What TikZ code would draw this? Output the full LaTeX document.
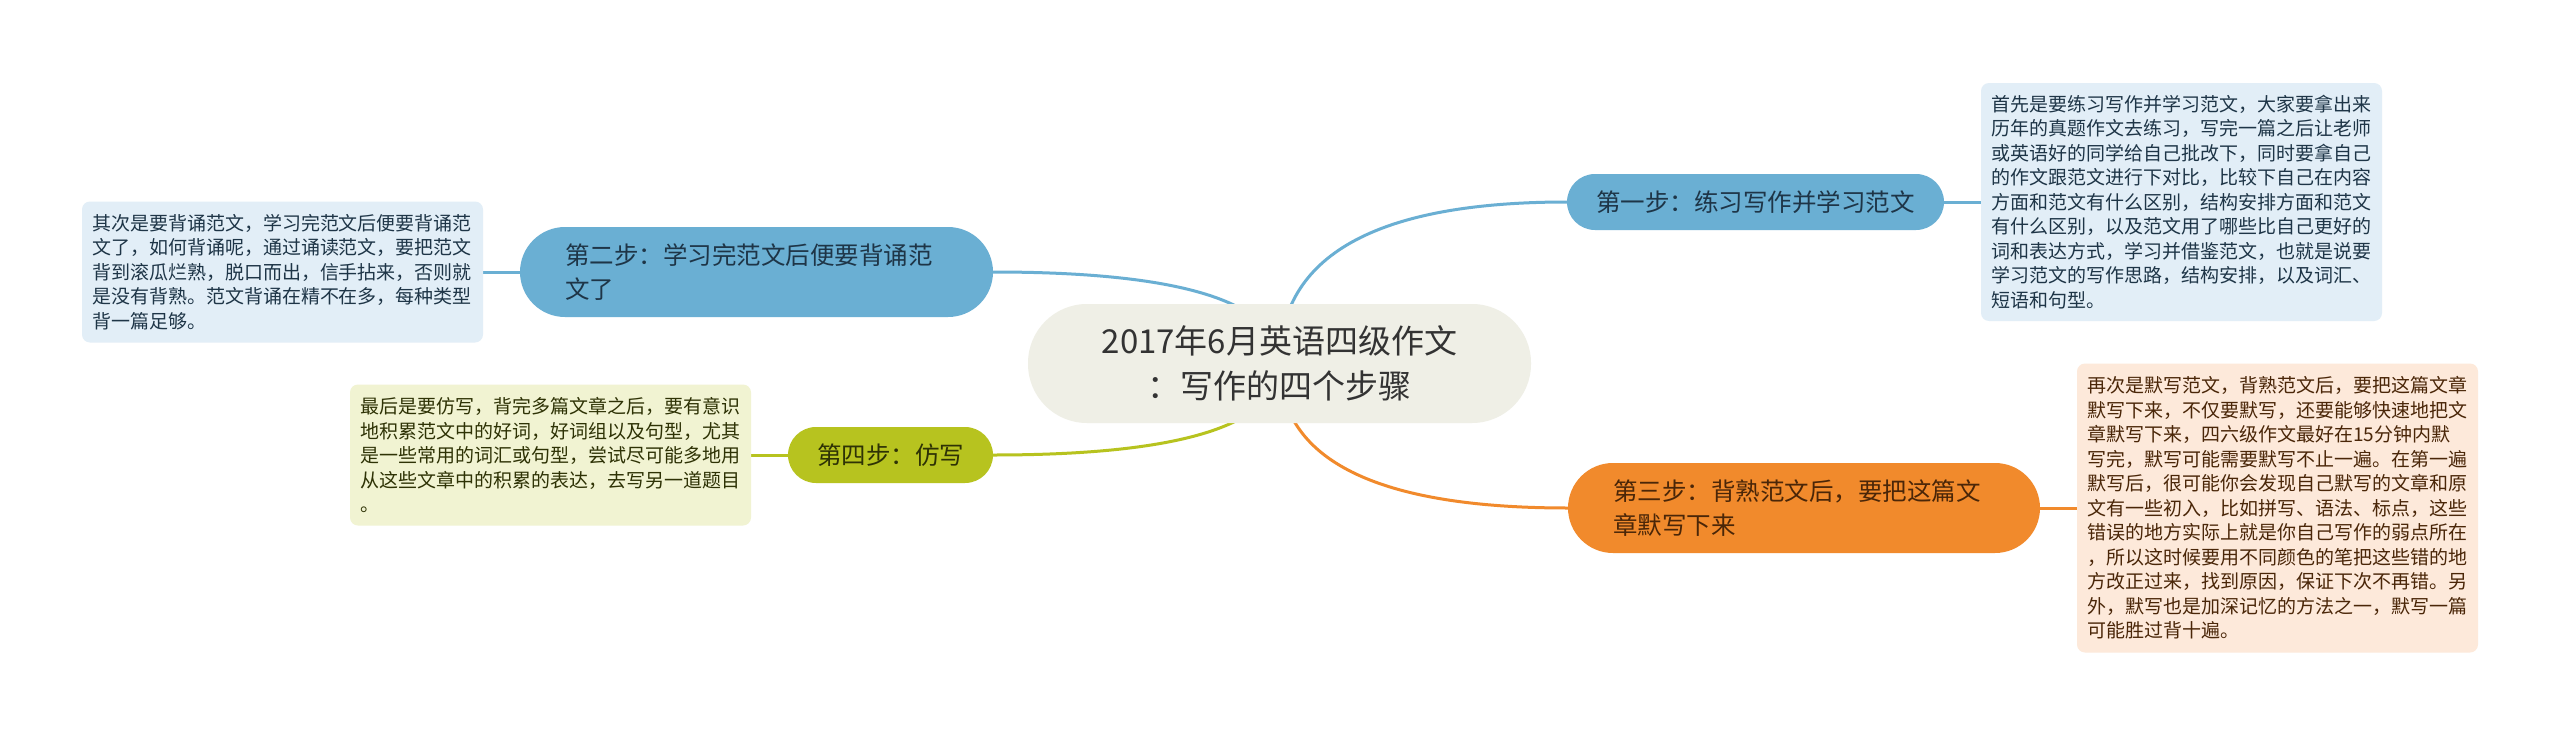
\documentclass[tikz,border=0pt]{standalone}
\usepackage{fontspec}
\setmainfont{Noto Sans CJK SC}
\usetikzlibrary{positioning}
\usetikzlibrary{calc}
\usetikzlibrary{backgrounds}

\definecolor{RootFill}{HTML}{EFEFE6}
\definecolor{StepBlue}{HTML}{6AAFD3}
\definecolor{StepOrange}{HTML}{F18A2C}
\definecolor{StepOlive}{HTML}{B7C31F}
\definecolor{NoteBlue}{HTML}{E2EEF7}
\definecolor{NoteOrange}{HTML}{FDE9DA}
\definecolor{NoteOlive}{HTML}{F1F3D2}
\definecolor{InkBlue}{HTML}{1E3547}
\definecolor{InkOrange}{HTML}{4A2608}
\definecolor{InkOlive}{HTML}{2E3205}

\begin{document}
\begin{tikzpicture}[x=1pt, y=-1pt]

\def\NoteWidth{401pt}
\def\StepHeight{90pt}
\def\Gap{37pt}

% Styles
\tikzstyle{root} =
	[fill=RootFill, text=black!80, rounded corners=59pt, minimum width=503pt,
	 minimum height=119pt, align=center, inner sep=0pt, outer sep=0pt,
	 font=\fontsize{33pt}{45pt}\selectfont]

\tikzstyle{stepbox} =
	[rounded corners=28pt, minimum height=56pt, inner sep=0pt, outer sep=0pt,
	 font=\fontsize{24.5pt}{34pt}\selectfont]

\tikzstyle{tall step} =
	[stepbox, rounded corners=45pt, minimum height=\StepHeight,
	 text width=383pt, inner xsep=45pt, align=left]

\tikzstyle{note} =
	[rounded corners=8pt, minimum width=\NoteWidth, text width=381pt,
	 inner xsep=10pt, inner ysep=0pt, outer sep=0pt, align=left,
	 font=\fontsize{19pt}{24.5pt}\selectfont]

\tikzstyle{link} =
	[line width=3pt]

\useasboundingbox (0,0) rectangle (2560,736);

% Root and steps

\node (Root) at (1279.5, 363.5) [root]
	{2017年6月英语四级作文\\：写作的四个步骤};

\node (StepOne) at (1755.5, 202)
	[stepbox, fill=StepBlue, text=InkBlue, minimum width=377pt]
	{第一步：练习写作并学习范文};
\node (StepTwo) at (756.5, 272)
	[tall step, fill=StepBlue, text=InkBlue]
	{第二步：学习完范文后便要背诵范\\文了};
\node (StepThree) at (1804, 508)
	[tall step, fill=StepOrange, text=InkOrange, text width=382pt]
	{第三步：背熟范文后，要把这篇文\\章默写下来};
\node (StepFour) at (890.5, 455)
	[stepbox, fill=StepOlive, text=InkOlive, minimum width=205pt]
	{第四步：仿写};

% Notes

\node (NoteOne) [note, fill=NoteBlue, text=InkBlue, minimum height=238pt,
	right=\Gap of StepOne]
	{首先是要练习写作并学习范文，大家要拿出来\\
	历年的真题作文去练习，写完一篇之后让老师\\
	或英语好的同学给自己批改下，同时要拿自己\\
	的作文跟范文进行下对比，比较下自己在内容\\
	方面和范文有什么区别，结构安排方面和范文\\
	有什么区别，以及范文用了哪些比自己更好的\\
	词和表达方式，学习并借鉴范文，也就是说要\\
	学习范文的写作思路，结构安排，以及词汇、\\
	短语和句型。};

\node (NoteTwo) [note, fill=NoteBlue, text=InkBlue, minimum height=141pt,
	left=\Gap of StepTwo]
	{其次是要背诵范文，学习完范文后便要背诵范\\
	文了，如何背诵呢，通过诵读范文，要把范文\\
	背到滚瓜烂熟，脱口而出，信手拈来，否则就\\
	是没有背熟。范文背诵在精不在多，每种类型\\
	背一篇足够。};

\node (NoteThree) [note, fill=NoteOrange, text=InkOrange, minimum height=289pt,
	right=\Gap of StepThree]
	{再次是默写范文，背熟范文后，要把这篇文章\\
	默写下来，不仅要默写，还要能够快速地把文\\
	章默写下来，四六级作文最好在15分钟内默\\
	写完，默写可能需要默写不止一遍。在第一遍\\
	默写后，很可能你会发现自己默写的文章和原\\
	文有一些初入，比如拼写、语法、标点，这些\\
	错误的地方实际上就是你自己写作的弱点所在\\
	，所以这时候要用不同颜色的笔把这些错的地\\
	方改正过来，找到原因，保证下次不再错。另\\
	外，默写也是加深记忆的方法之一，默写一篇\\
	可能胜过背十遍。};

\node (NoteFour) [note, fill=NoteOlive, text=InkOlive, minimum height=141pt,
	left=\Gap of StepFour]
	{最后是要仿写，背完多篇文章之后，要有意识\\
	地积累范文中的好词，好词组以及句型，尤其\\
	是一些常用的词汇或句型，尝试尽可能多地用\\
	从这些文章中的积累的表达，去写另一道题目\\
	。};

% Edges

\begin{scope}[on background layer]
\fill[white] (0,0) rectangle (2560,736);
\coordinate (Hub) at (Root.center);
\foreach \Target/\Side/\Col in
	{StepOne/west/StepBlue, StepTwo/east/StepBlue,
	 StepThree/west/StepOrange, StepFour/east/StepOlive}
	\draw[link, draw=\Col] (Hub)
		.. controls ($(Hub)!2/3!(Hub |- \Target.\Side)$)
		and ($(\Target.\Side)!2/3!(Hub |- \Target.\Side)$) .. (\Target.\Side);

\draw[link, StepBlue] (StepOne.east) -- (NoteOne.west);
\draw[link, StepBlue] (StepTwo.west) -- (NoteTwo.east);
\draw[link, StepOrange] (StepThree.east) -- (NoteThree.west);
\draw[link, StepOlive] (StepFour.west) -- (NoteFour.east);
\end{scope}

\end{tikzpicture}
\end{document}
